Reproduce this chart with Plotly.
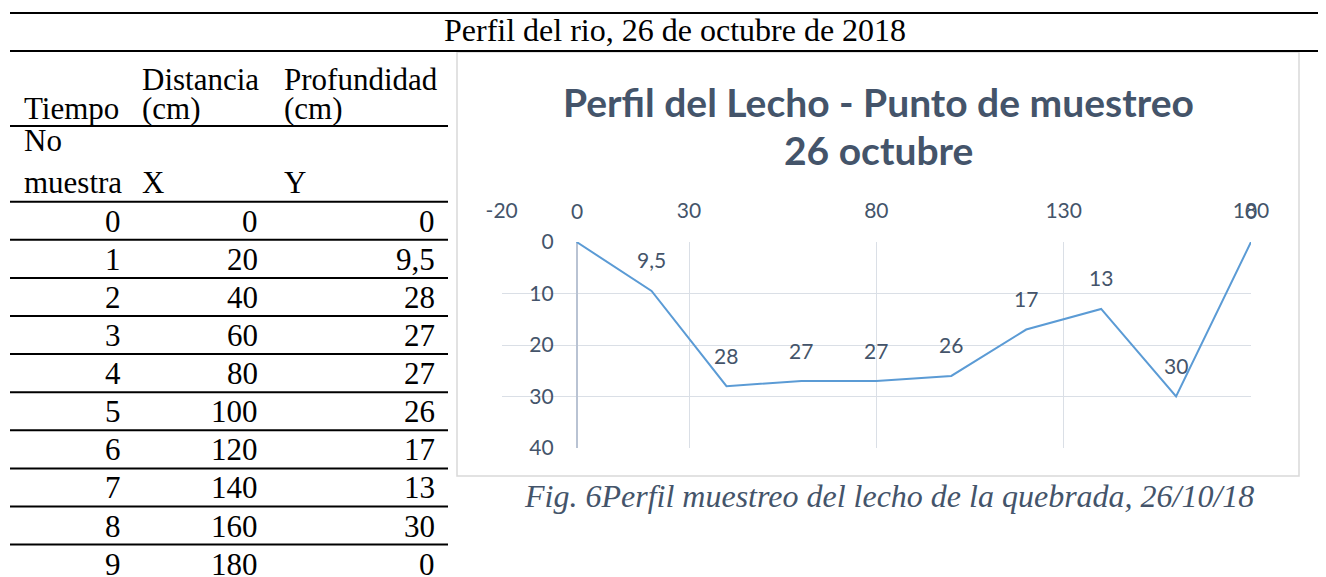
import plotly.graph_objects as go

# ---------------- data ----------------
muestra = [0, 1, 2, 3, 4, 5, 6, 7, 8, 9]
distancia = [0, 20, 40, 60, 80, 100, 120, 140, 160, 180]
profundidad = [0, 9.5, 28, 27, 27, 26, 17, 13, 30, 0]

x_ticks = [-20, 30, 80, 130, 180]
x_tick_text = ["-20", "30", "80", "130", "180"]
y_ticks = [0, 10, 20, 30, 40]

titulo_doc = "Perfil del rio, 26 de octubre de 2018"
titulo_graf = ["Perfil del Lecho - Punto de muestreo", "26 octubre"]
leyenda = "Fig. 6Perfil muestreo del lecho de la quebrada, 26/10/18"
encabezado_1 = ["", "Distancia", "Profundidad"]
encabezado_2 = ["Tiempo", "(cm)", "(cm)"]
encabezado_3 = ["No", "", ""]
encabezado_4 = ["muestra", "X", "Y"]

# ---------------- layout helpers ----------------
# the page body has an 8px margin, so the figure is made 8px smaller and
# every page-pixel coordinate is shifted by that offset
PAGE_W, PAGE_H = 1326, 577
OFF = 8
W, H = PAGE_W - OFF, PAGE_H - OFF


def px(x):
    return (x - OFF) / W


def py(y):
    return 1 - (y - OFF) / H


def fmt(v):
    return f"{v:g}".replace(".", ",")


SERIF = "Liberation Serif, Times New Roman, serif"
SANS = "Lato, Open Sans, sans-serif"
TXT = "#44546A"
TS = 31

plot_left, plot_right = 501.7, 1251.0
plot_top, plot_bottom = 242.0, 448.0
xr = [-20, 180]
dom_x = [px(plot_left), px(plot_right)]
yaxis_pos = dom_x[0] + (0 - xr[0]) / (xr[1] - xr[0]) * (dom_x[1] - dom_x[0])

fig = go.Figure()
fig.add_trace(go.Scatter(
    x=distancia, y=profundidad, mode="lines",
    line=dict(color="#5B9BD5", width=2), hoverinfo="skip", showlegend=False,
))

annotations = []
# data labels (above each point)
for xv, yv in zip(distancia, profundidad):
    annotations.append(dict(
        x=xv, y=yv, xref="x", yref="y", text=fmt(yv), showarrow=False,
        yshift=31, font=dict(family=SANS, size=21, color=TXT),
    ))

# document title
annotations.append(dict(x=px(675), y=py(30), xref="paper", yref="paper",
                        text=titulo_doc, showarrow=False, xanchor="center", yanchor="middle",
                        font=dict(family=SERIF, size=32, color="black")))

# table header
col_left = [21.7, 140, 281.7]
for row_txt, yc in [(encabezado_1, 79.5), (encabezado_2, 108.5), (encabezado_3, 140), (encabezado_4, 182)]:
    for txt, xl in zip(row_txt, col_left):
        if txt:
            annotations.append(dict(x=px(xl), y=py(yc), xref="paper", yref="paper",
                                    text=txt, showarrow=False, xanchor="left", yanchor="middle",
                                    font=dict(family=SERIF, size=TS, color="black")))

# table body
row_line0, row_step = 201.7, 38.1
for i, (m, d, p) in enumerate(zip(muestra, distancia, profundidad)):
    yc = row_line0 + i * row_step + 19.5
    annotations.append(dict(x=px(113), y=py(yc), xref="paper", yref="paper", text=str(m),
                            showarrow=False, xanchor="center", yanchor="middle",
                            font=dict(family=SERIF, size=TS, color="black")))
    annotations.append(dict(x=px(260), y=py(yc), xref="paper", yref="paper", text=str(d),
                            showarrow=False, xanchor="right", yanchor="middle",
                            font=dict(family=SERIF, size=TS, color="black")))
    annotations.append(dict(x=px(437), y=py(yc), xref="paper", yref="paper", text=fmt(p),
                            showarrow=False, xanchor="right", yanchor="middle",
                            font=dict(family=SERIF, size=TS, color="black")))

# chart title
for txt, yc in zip(titulo_graf, [102, 150]):
    annotations.append(dict(x=px(878), y=py(yc), xref="paper", yref="paper",
                            text=f"<b>{txt}</b>", showarrow=False, xanchor="center", yanchor="middle",
                            font=dict(family=SANS, size=39, color=TXT)))

# caption
annotations.append(dict(x=px(889), y=py(496), xref="paper", yref="paper",
                        text=f"<i>{leyenda}</i>", showarrow=False, xanchor="center", yanchor="middle",
                        font=dict(family=SERIF, size=32, color=TXT)))

shapes = []
# chart frame
shapes.append(dict(type="rect", xref="paper", yref="paper",
                   x0=px(457), x1=px(1299), y0=py(476), y1=py(52),
                   line=dict(color="#D9D9D9", width=1.5), fillcolor="white", layer="below"))
# document rules
for yl in [13, 51]:
    shapes.append(dict(type="line", xref="paper", yref="paper", x0=px(10), x1=1,
                       y0=py(yl), y1=py(yl), line=dict(color="black", width=2)))
shapes.append(dict(type="line", xref="paper", yref="paper", x0=px(10), x1=px(448),
                   y0=py(126), y1=py(126), line=dict(color="black", width=2)))
for i in range(len(muestra)):
    yl = row_line0 + i * row_step
    shapes.append(dict(type="line", xref="paper", yref="paper", x0=px(10), x1=px(448),
                       y0=py(yl), y1=py(yl), line=dict(color="black", width=2)))

fig.update_layout(
    template="none",
    width=W, height=H, margin=dict(l=0, r=0, t=0, b=0, pad=0, autoexpand=False),
    paper_bgcolor="white", plot_bgcolor="rgba(0,0,0,0)",
    showlegend=False,
    xaxis=dict(domain=dom_x, range=xr, side="top", tickvals=x_ticks, ticktext=x_tick_text,
               automargin=False,
               showgrid=True, gridcolor="#DADFE6", gridwidth=1,
               zeroline=True, zerolinecolor="#B9C3D3", zerolinewidth=1.5,
               showline=False, ticks="", ticklabelstandoff=19,
               tickfont=dict(family=SANS, size=21, color=TXT)),
    yaxis=dict(domain=[py(plot_bottom), py(plot_top)], range=[40, 0], tickvals=y_ticks,
               anchor="free", position=yaxis_pos, automargin=False,
               showgrid=True, gridcolor="#DADFE6", gridwidth=1,
               zeroline=False, showline=False, ticks="", ticklabelstandoff=23,
               tickfont=dict(family=SANS, size=21, color=TXT)),
    annotations=annotations, shapes=shapes,
)

fig.write_html("out.html")
